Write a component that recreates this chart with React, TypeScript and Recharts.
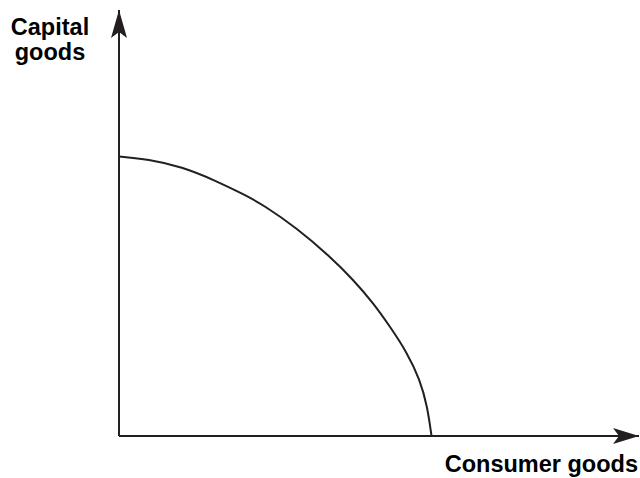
import { Customized, Line, LineChart, ReferenceDot, ReferenceLine, XAxis, YAxis } from "recharts";

const consumerGoods = [0, 0.56, 1.21, 1.85, 2.42, 2.78, 3.42, 4.06, 4.51, 4.89, 5.21, 5.53, 5.79, 5.93, 6.01];
const capitalGoods = [6.56, 6.5, 6.32, 6.0, 5.66, 5.42, 4.88, 4.21, 3.66, 3.12, 2.57, 1.98, 1.32, 0.69, 0];

const X_MAX = 10;
const Y_MAX = 10;
const INK = "#231f20";
const FONT = "'Liberation Sans', Arial, sans-serif";

const data = consumerGoods.map((x, i) => ({ x, y: capitalGoods[i] }));

// stealth-style arrowheads, tip sits on the reference dot
const UpArrow = (props: any) => {
  const { cx, cy } = props;
  return (
    <polygon
      points={`${cx},${cy} ${cx + 8},${cy + 28} ${cx},${cy + 22} ${cx - 8},${cy + 28}`}
      fill={INK}
    />
  );
};

const RightArrow = (props: any) => {
  const { cx, cy } = props;
  return (
    <polygon
      points={`${cx},${cy} ${cx - 26},${cy - 8} ${cx - 20},${cy} ${cx - 26},${cy + 8}`}
      fill={INK}
    />
  );
};

const Labels = () => (
  <g fontFamily={FONT} fontWeight="bold" fontSize={23.5} fill="#000">
    <text x={50} y={35} textAnchor="middle">Capital</text>
    <text x={50} y={60} textAnchor="middle">goods</text>
    <text x={638} y={472} textAnchor="end">Consumer goods</text>
  </g>
);

export default function App() {
  return (
    <div style={{ position: "absolute", left: 0, top: 0, width: 640, height: 478, background: "#fff" }}>
      <LineChart width={640} height={478} data={data} margin={{ top: 10, right: 1, bottom: 42, left: 119 }}>
        <XAxis dataKey="x" type="number" domain={[0, X_MAX]} hide />
        <YAxis type="number" domain={[0, Y_MAX]} hide />
        <ReferenceLine
          segment={[{ x: 0, y: 0 }, { x: X_MAX, y: 0 }]}
          stroke={INK}
          strokeWidth={2}
          ifOverflow="visible"
        />
        <ReferenceLine
          segment={[{ x: 0, y: 0 }, { x: 0, y: Y_MAX }]}
          stroke={INK}
          strokeWidth={2}
          ifOverflow="visible"
        />
        <ReferenceDot x={0} y={Y_MAX} ifOverflow="visible" shape={UpArrow} />
        <ReferenceDot x={X_MAX} y={0} ifOverflow="visible" shape={RightArrow} />
        <Line
          type="basis"
          dataKey="y"
          stroke={INK}
          strokeWidth={2}
          dot={false}
          activeDot={false}
          isAnimationActive={false}
        />
        <Customized component={Labels} />
      </LineChart>
    </div>
  );
}
